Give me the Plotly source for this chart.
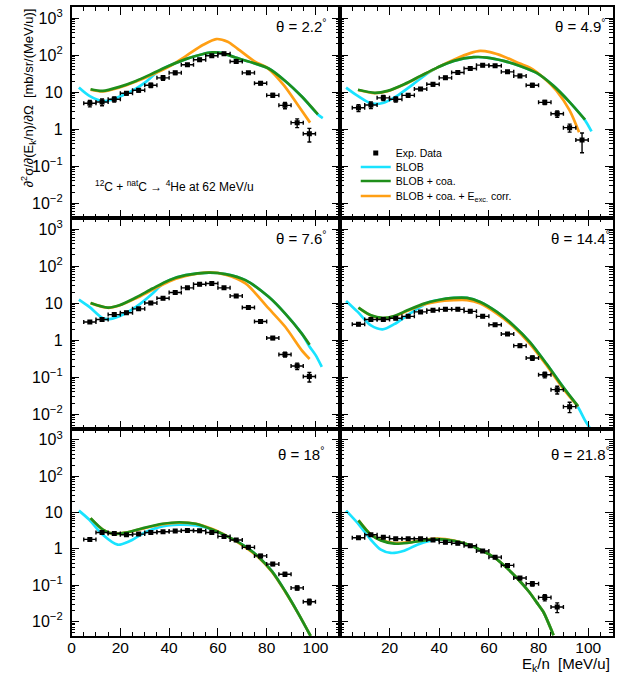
import plotly.graph_objects as go

# ---------------- data ----------------
BIN_HALF_WIDTH = 2.5
THETA_LABELS = ["2.2", "4.9", "7.6", "14.4", "18", "21.8"]

# panel 1 : theta = 2.2
exp_x_1 = [7.5, 12.5, 17.5, 22.5, 27.5, 32.5, 37.5, 42.5, 47.5, 52.5, 57.5, 62.5, 67.5, 72.5, 77.5, 82.5, 87.5, 92.5, 97.5]
exp_y_1 = [5.0, 5.4, 6.4, 9.3, 11.2, 15.4, 24.3, 33.2, 54.7, 74.7, 95.9, 108.6, 67.3, 33.2, 17.4, 8.2, 4.4, 1.50, 0.75]
exp_e_1 = [1.0, 1.1, 1.0, 1.0, 1.2, 2.0, 3.4, 3.3, 4.4, 6.0, 7.7, 8.7, 5.4, 2.7, 1.7, 1.0, 0.84, 0.40, 0.30]
blob_x_1 = [3.0, 7.3, 12.8, 16.9, 21.0, 26.4, 30.5, 35.2, 40.0, 46.8, 53.6, 57.7, 61.8, 67.2, 74.0, 80.8, 87.6, 94.4, 101.0, 103.0]
blob_y_1 = [13.3, 7.9, 5.7, 6.4, 8.2, 12.5, 18.9, 35.0, 51.4, 78, 106, 118, 113, 86, 63, 43.6, 20.1, 7.6, 2.5, 2.0]
coa_x_1 = [7.8, 12.8, 19.6, 26.4, 33.2, 40.0, 46.8, 53.6, 57.7, 61.8, 67.2, 74.0, 80.8, 87.6, 94.4, 101.0]
coa_y_1 = [12.0, 10.8, 13.9, 20.1, 31.8, 51.4, 78, 106, 118, 113, 86, 63, 43.6, 20.1, 7.6, 2.5]
exc_x_1 = [7.8, 12.8, 19.6, 26.4, 33.2, 40.0, 47.0, 54.0, 59.3, 64.0, 68.0, 75.0, 80.5, 87.0, 93.0, 97.8]
exc_y_1 = [11.6, 10.4, 13.3, 19.3, 30.0, 49, 96, 190, 272, 230, 150, 68, 44, 15.5, 4.3, 1.5]

# panel 2 : theta = 4.9
exp_x_2 = [7.5, 12.5, 17.5, 22.5, 27.5, 32.5, 37.5, 42.5, 47.5, 52.5, 57.5, 62.5, 67.5, 72.5, 77.5, 82.5, 87.5, 92.5, 97.5]
exp_y_2 = [3.8, 4.5, 7.0, 6.4, 8.2, 12.2, 16.4, 24.3, 33.9, 43.5, 53.6, 51.4, 35.3, 27.5, 15.4, 5.3, 2.6, 1.10, 0.51]
exp_e_2 = [0.8, 0.9, 1.1, 1.0, 0.9, 0.9, 1.7, 2.2, 2.7, 3.5, 4.3, 4.1, 2.8, 2.5, 1.7, 0.7, 0.5, 0.27, 0.28]
blob_x_2 = [2.5, 7.2, 12.5, 17.3, 22.7, 29.3, 34.7, 39.2, 45.9, 53.9, 59.2, 65.9, 72.5, 79.2, 85.9, 92.5, 98.7, 101.3]
blob_y_2 = [13.3, 7.9, 5.0, 5.1, 7.7, 16, 30, 46, 70, 88, 86, 70, 51, 33, 15, 5.4, 1.75, 0.87]
coa_x_2 = [7.3, 14.0, 19.2, 25.9, 32.5, 39.2, 45.9, 53.9, 59.2, 65.9, 72.5, 79.2, 85.9, 92.5, 98.7]
coa_y_2 = [11.6, 9.6, 10.8, 16.4, 27.5, 46, 70, 88, 86, 70, 51, 33, 15, 5.4, 1.8]
exc_x_2 = [7.3, 14.0, 19.2, 25.9, 32.5, 39.2, 45.9, 52.5, 56.5, 60.5, 65.9, 72.5, 76.5, 81.9, 87.2, 92.5, 96.3]
exc_y_2 = [11.4, 9.4, 10.6, 16, 27, 46, 75, 113, 130, 120, 92, 59, 46, 25, 11, 3.2, 0.82]

# panel 3 : theta = 7.6
exp_x_3 = [7.5, 12.5, 17.5, 22.5, 27.5, 32.5, 37.5, 42.5, 47.5, 52.5, 57.5, 62.5, 67.5, 72.5, 77.5, 82.5, 87.5, 92.5, 97.5]
exp_y_3 = [3.1, 3.6, 4.9, 5.5, 7.0, 10.1, 13.6, 19.3, 25.9, 32.5, 33.9, 25.9, 15.7, 7.6, 3.2, 1.14, 0.41, 0.20, 0.104]
exp_e_3 = [0.25, 0.3, 0.4, 0.45, 0.55, 0.8, 1.1, 1.5, 2.0, 2.5, 2.6, 2.0, 1.2, 0.6, 0.26, 0.1, 0.06, 0.04, 0.03]
blob_x_3 = [3.0, 7.3, 12.8, 15.5, 19.6, 26.4, 33.2, 37.0, 40.0, 46.8, 56.3, 63.1, 71.3, 80.8, 87.6, 94.4, 97.4, 100.0, 102.6]
blob_y_3 = [12.5, 7.9, 3.9, 3.7, 4.4, 7.9, 18.2, 32, 41.8, 57, 67, 61, 41.8, 14.8, 5.2, 1.5, 0.7, 0.4, 0.19]
coa_x_3 = [7.8, 14.8, 19.6, 26.4, 33.2, 40.0, 46.8, 56.3, 63.1, 71.3, 80.8, 87.6, 94.4, 97.6]
coa_y_3 = [10.1, 7.6, 8.8, 14.2, 24.8, 41.8, 57, 67, 61, 41.8, 14.8, 5.2, 1.5, 0.75]
exc_x_3 = [7.8, 14.8, 19.6, 26.4, 33.2, 40.0, 46.8, 56.3, 63.1, 71.3, 80.8, 87.6, 94.4, 97.6]
exc_y_3 = [10.0, 7.5, 8.6, 13.5, 23, 38.5, 54, 68, 59, 34, 7.2, 2.3, 0.53, 0.31]

# panel 4 : theta = 14.4
exp_x_4 = [7.5, 12.5, 17.5, 22.5, 27.5, 32.5, 37.5, 42.5, 47.5, 52.5, 57.5, 62.5, 67.5, 72.5, 77.5, 82.5, 87.5, 92.5]
exp_y_4 = [2.68, 3.6, 3.6, 3.9, 4.4, 5.8, 6.4, 6.8, 6.8, 6.0, 4.4, 2.6, 1.47, 0.71, 0.33, 0.116, 0.046, 0.016]
exp_e_4 = [0.2, 0.25, 0.25, 0.3, 0.3, 0.4, 0.45, 0.5, 0.5, 0.45, 0.33, 0.2, 0.12, 0.07, 0.045, 0.02, 0.011, 0.005]
blob_x_4 = [2.5, 7.2, 12.5, 17.2, 21.9, 27.2, 32.5, 36.0, 39.2, 45.9, 51.2, 56.5, 63.2, 69.9, 76.5, 83.2, 89.9, 95.9, 98.7, 101.2]
blob_y_4 = [11.5, 5.8, 2.5, 1.96, 2.7, 4.7, 7.9, 10.7, 12, 13.9, 13.9, 10.8, 5.8, 2.5, 0.89, 0.23, 0.054, 0.0154, 0.0068, 0.0037]
coa_x_4 = [7.5, 12.5, 17.2, 21.9, 27.2, 33.9, 39.2, 45.9, 51.2, 56.5, 63.2, 69.9, 76.5, 83.2, 89.9, 95.9]
coa_y_4 = [7.6, 4.7, 4.0, 4.5, 6.4, 9.7, 12, 13.9, 13.9, 10.8, 5.8, 2.5, 0.89, 0.23, 0.054, 0.0165]
exc_x_4 = [7.5, 12.5, 17.2, 21.9, 27.2, 33.9, 39.2, 45.9, 51.2, 56.5, 63.2, 69.9, 76.5, 83.2, 89.9, 95.9]
exc_y_4 = [7.5, 4.6, 3.9, 4.4, 6.2, 9.2, 11, 12.0, 12.0, 9.7, 5.2, 2.3, 0.8, 0.21, 0.049, 0.016]

# panel 5 : theta = 18
exp_x_5 = [7.5, 12.5, 17.5, 22.5, 27.5, 32.5, 37.5, 42.5, 47.5, 52.5, 57.5, 62.5, 67.5, 72.5, 77.5, 82.5, 87.5, 92.5, 97.5]
exp_y_5 = [1.82, 2.83, 2.66, 2.44, 2.55, 2.83, 2.95, 3.08, 3.21, 3.14, 2.83, 2.20, 1.75, 1.10, 0.64, 0.38, 0.20, 0.084, 0.035]
exp_e_5 = [0.15, 0.2, 0.2, 0.18, 0.18, 0.2, 0.2, 0.22, 0.22, 0.22, 0.2, 0.16, 0.14, 0.09, 0.06, 0.035, 0.025, 0.011, 0.006]
blob_x_5 = [3.0, 7.3, 12.8, 18.9, 23.7, 29.1, 35.9, 44.1, 50.9, 57.7, 64.5, 71.3, 76.7, 82.2, 87.6, 93.1, 98.0]
blob_y_5 = [11.3, 6.3, 2.44, 1.30, 1.61, 2.6, 3.95, 4.6, 4.4, 3.4, 2.1, 1.15, 0.6, 0.24, 0.068, 0.016, 0.004]
coa_x_5 = [7.8, 12.8, 16.9, 22.3, 29.1, 37.3, 44.1, 50.9, 57.7, 64.5, 71.3, 76.7, 82.2, 87.6, 93.1, 98.0]
coa_y_5 = [7.0, 3.4, 2.6, 2.8, 3.7, 4.9, 5.4, 4.9, 3.4, 2.1, 1.15, 0.6, 0.24, 0.068, 0.016, 0.004]
exc_x_5 = [7.8, 12.8, 16.9, 22.3, 29.1, 37.3, 44.1, 50.9, 57.7, 64.5, 71.3, 76.7, 82.2, 87.6, 93.1, 98.0]
exc_y_5 = [6.9, 3.4, 2.6, 2.8, 3.6, 4.8, 5.3, 4.9, 3.5, 2.1, 1.1, 0.58, 0.23, 0.066, 0.016, 0.004]

# panel 6 : theta = 21.8
exp_x_6 = [7.5, 12.5, 17.5, 22.5, 27.5, 32.5, 37.5, 42.5, 47.5, 52.5, 57.5, 62.5, 67.5, 72.5, 77.5, 82.5, 87.5]
exp_y_6 = [2.02, 2.44, 2.07, 1.90, 1.90, 1.90, 1.75, 1.51, 1.42, 1.22, 0.87, 0.59, 0.35, 0.157, 0.110, 0.046, 0.025]
exp_e_6 = [0.15, 0.18, 0.15, 0.14, 0.14, 0.14, 0.12, 0.11, 0.1, 0.09, 0.065, 0.045, 0.03, 0.015, 0.015, 0.009, 0.0075]
blob_x_6 = [2.5, 7.2, 12.5, 16.5, 20.5, 25.9, 31.2, 36.5, 39.2, 45.9, 52.5, 57.0, 61.9, 66.5, 71.2, 75.9, 79.9, 81.9, 84.0, 86.0]
blob_y_6 = [11.3, 5.1, 1.78, 0.95, 0.77, 0.89, 1.30, 1.67, 1.8, 1.67, 1.25, 0.9, 0.6, 0.33, 0.16, 0.069, 0.029, 0.0185, 0.009, 0.0042]
coa_x_6 = [7.5, 12.5, 16.5, 21.9, 27.2, 33.9, 39.2, 45.9, 52.5, 57.0, 61.9, 66.5, 71.2, 75.9, 79.9, 81.9, 84.0, 86.0]
coa_y_6 = [6.1, 2.44, 1.71, 1.39, 1.45, 1.71, 1.86, 1.67, 1.25, 0.9, 0.6, 0.33, 0.16, 0.069, 0.029, 0.0185, 0.009, 0.0042]
exc_x_6 = [7.5, 12.5, 16.5, 21.9, 27.2, 33.9, 39.2, 45.9, 52.5, 57.0, 61.9, 66.5, 71.2, 75.9, 79.9, 81.9, 84.0, 86.0]
exc_y_6 = [6.1, 2.5, 1.75, 1.45, 1.5, 1.75, 1.9, 1.7, 1.25, 0.9, 0.6, 0.33, 0.16, 0.069, 0.029, 0.0185, 0.009, 0.0042]

Y_TICK_VALS = [0.01, 0.1, 1, 10, 100, 1000]
Y_TICK_TEXT = ["10<sup>\u22122</sup>", "10<sup>\u22121</sup>", "1", "10", "10<sup>2</sup>", "10<sup>3</sup>"]
X_TICK_VALS_LEFT = [0, 20, 40, 60, 80, 100]
X_TICK_VALS_RIGHT = [20, 40, 60, 80, 100]

LEGEND_NAMES = ["Exp. Data", "BLOB", "BLOB + coa.", "BLOB + coa. + E<sub>exc.</sub> corr."]

panels = [
    (exp_x_1, exp_y_1, exp_e_1, blob_x_1, blob_y_1, coa_x_1, coa_y_1, exc_x_1, exc_y_1),
    (exp_x_2, exp_y_2, exp_e_2, blob_x_2, blob_y_2, coa_x_2, coa_y_2, exc_x_2, exc_y_2),
    (exp_x_3, exp_y_3, exp_e_3, blob_x_3, blob_y_3, coa_x_3, coa_y_3, exc_x_3, exc_y_3),
    (exp_x_4, exp_y_4, exp_e_4, blob_x_4, blob_y_4, coa_x_4, coa_y_4, exc_x_4, exc_y_4),
    (exp_x_5, exp_y_5, exp_e_5, blob_x_5, blob_y_5, coa_x_5, coa_y_5, exc_x_5, exc_y_5),
    (exp_x_6, exp_y_6, exp_e_6, blob_x_6, blob_y_6, coa_x_6, coa_y_6, exc_x_6, exc_y_6),
]

# ---------------- style ----------------
W, H = 628, 674
FONT = "Liberation Sans, Arial, Helvetica, sans-serif"
CYAN = "#19e3ff"
GREEN = "#1f8e1a"
ORANGE = "#ff9f14"
COL_PX = [(68, 338), (338, 613)]
ROW_PX = [(7, 218), (218, 429), (429, 636)]
MINOR_Y = [m * 10 ** e for e in range(-3, 4) for m in range(2, 10)]
LEGEND_ROWS_PX = [153, 167, 181, 196]   # legend entry centres (pixels from top)
LEGEND_X_PX = 354

fig = go.Figure()
layout_axes = {}
annotations = []

for i, (ex, ey, ee, bx, by, cx, cy, ox, oy) in enumerate(panels):
    r, c = divmod(i, 2)
    sfx = "" if i == 0 else str(i + 1)
    xa, ya = "x" + sfx, "y" + sfx
    show = (i == 1)
    line_kw = dict(width=2.7, shape="spline", smoothing=0.8)
    fig.add_trace(go.Scatter(x=bx, y=by, xaxis=xa, yaxis=ya, mode="lines",
                             line=dict(color=CYAN, **line_kw), name=LEGEND_NAMES[1],
                             legend="legend2", showlegend=show, hoverinfo="skip"))
    fig.add_trace(go.Scatter(x=ox, y=oy, xaxis=xa, yaxis=ya, mode="lines",
                             line=dict(color=ORANGE, **line_kw), name=LEGEND_NAMES[3],
                             legend="legend4", showlegend=show, hoverinfo="skip"))
    fig.add_trace(go.Scatter(x=cx, y=cy, xaxis=xa, yaxis=ya, mode="lines",
                             line=dict(color=GREEN, **line_kw), name=LEGEND_NAMES[2],
                             legend="legend3", showlegend=show, hoverinfo="skip"))
    fig.add_trace(go.Scatter(x=ex, y=ey, xaxis=xa, yaxis=ya, mode="markers",
                             marker=dict(symbol="square", size=5, color="black"),
                             error_y=dict(type="data", array=ee, color="black", thickness=1.4, width=2),
                             error_x=dict(type="constant", value=BIN_HALF_WIDTH, color="black", thickness=1.4, width=2),
                             name=LEGEND_NAMES[0], legend="legend", showlegend=show))

    x0, x1 = COL_PX[c]
    yt, yb = ROW_PX[r]
    bottom = (r == 2)
    left = (c == 0)
    layout_axes["xaxis" + sfx] = dict(
        domain=[x0 / W, x1 / W], anchor=ya, range=[0, 110],
        showline=True, linecolor="black", linewidth=1.5, mirror="ticks",
        ticks="inside", ticklen=8, tickcolor="black", tickwidth=1,
        tickvals=X_TICK_VALS_LEFT if left else X_TICK_VALS_RIGHT,
        showticklabels=bottom, showgrid=False, zeroline=False,
        tickfont=dict(family=FONT, size=15.5, color="black"),
        ticklabelstandoff=-3,
        minor=dict(dtick=5, tick0=0, ticks="inside", ticklen=4, tickcolor="black", tickwidth=1, showgrid=False),
    )
    layout_axes["yaxis" + sfx] = dict(
        domain=[1 - yb / H, 1 - yt / H], anchor=xa, type="log", range=[-2.4, 3.3],
        showline=True, linecolor="black", linewidth=1.5, mirror="ticks",
        ticks="inside", ticklen=8, tickcolor="black", tickwidth=1,
        tickvals=Y_TICK_VALS, ticktext=Y_TICK_TEXT,
        showticklabels=left, showgrid=False, zeroline=False,
        tickfont=dict(family=FONT, size=16, color="black"),
        ticklabelstandoff=4,
        minor=dict(tickvals=MINOR_Y, ticks="inside", ticklen=4, tickcolor="black", tickwidth=1, showgrid=False),
    )
    top_off = 24 if bottom else 19
    annotations.append(dict(
        text="\u03b8 = " + THETA_LABELS[i] + "<sup>\u00b0</sup>",
        xref=xa + " domain", yref=ya + " domain",
        x=0.856 if left else 0.88, y=1 - top_off / (yb - yt),
        xanchor="center", yanchor="middle", showarrow=False,
        font=dict(family=FONT, size=15, color="black")))

annotations.append(dict(
    text="<sup>12</sup>C + <sup>nat</sup>C \u2192 <sup>4</sup>He at 62 MeV/u",
    xref="x domain", yref="y domain", x=(90 - 68) / 270, y=(218 - 186) / 211,
    xanchor="left", yanchor="middle", showarrow=False,
    font=dict(family=FONT, size=12, color="black")))
annotations.append(dict(
    text="\u2202<sup>2</sup>\u03c3/\u2202(E<sub>k</sub>/n)/\u2202\u03a9\u00a0\u00a0[mb/sr/(MeV/u)]",
    xref="paper", yref="paper", x=25 / W, y=1 - 6 / H, textangle=-90,
    xanchor="center", yanchor="top", showarrow=False,
    font=dict(family=FONT, size=13, color="black")))
annotations.append(dict(
    text="E<sub>k</sub>/n\u00a0\u00a0[MeV/u]",
    xref="paper", yref="paper", x=612 / W, y=1 - 664 / H,
    xanchor="right", yanchor="middle", showarrow=False,
    font=dict(family=FONT, size=15, color="black")))

legend_layout = {}
for k, ypx in enumerate(LEGEND_ROWS_PX):
    key = "legend" if k == 0 else "legend" + str(k + 1)
    legend_layout[key] = dict(
        x=LEGEND_X_PX / W, y=1 - ypx / H, xanchor="left", yanchor="middle",
        bgcolor="rgba(0,0,0,0)", borderwidth=0,
        font=dict(family=FONT, size=10.5, color="black"),
        itemwidth=30, tracegroupgap=0)

fig.update_layout(
    width=W, height=H, autosize=False,
    margin=dict(l=0, r=0, t=0, b=0),
    paper_bgcolor="white", plot_bgcolor="white",
    font=dict(family=FONT, color="black"),
    annotations=annotations,
    **legend_layout,
    **layout_axes,
)

fig.write_html("out.html")
